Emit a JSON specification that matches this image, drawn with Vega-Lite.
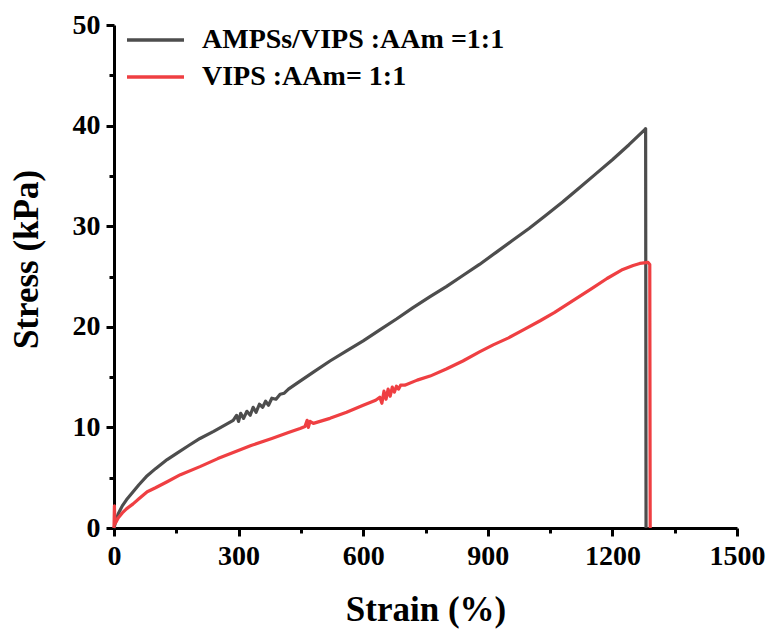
{
  "$schema": "https://vega.github.io/schema/vega-lite/v6.json",
  "width": 623,
  "height": 503,
  "autosize": "none",
  "padding": {"left": 114, "top": 25, "right": 34, "bottom": 101},
  "background": "white",
  "config": {
    "view": {"stroke": null},
    "font": "Liberation Serif"
  },
  "datasets": {
    "black": [
      {"strain":0,"stress":0},{"strain":5,"stress":0.8},{"strain":10,"stress":1.4},{"strain":20,"stress":2.2},
      {"strain":30,"stress":2.8},{"strain":46,"stress":3.6},{"strain":60,"stress":4.3},{"strain":80,"stress":5.2},
      {"strain":100,"stress":5.9},{"strain":128,"stress":6.8},{"strain":150,"stress":7.4},{"strain":180,"stress":8.2},
      {"strain":207,"stress":8.9},{"strain":240,"stress":9.6},{"strain":270,"stress":10.3},{"strain":287,"stress":10.7},
      {"strain":295,"stress":11.2},{"strain":300,"stress":10.6},{"strain":305,"stress":11.4},{"strain":312,"stress":10.9},
      {"strain":320,"stress":11.6},{"strain":328,"stress":11.2},{"strain":335,"stress":12.0},{"strain":342,"stress":11.5},
      {"strain":350,"stress":12.3},{"strain":358,"stress":12.0},{"strain":365,"stress":12.6},{"strain":372,"stress":12.2},
      {"strain":380,"stress":12.9},{"strain":390,"stress":12.8},{"strain":400,"stress":13.3},{"strain":410,"stress":13.4},
      {"strain":420,"stress":13.8},{"strain":441,"stress":14.4},{"strain":480,"stress":15.5},{"strain":520,"stress":16.6},
      {"strain":560,"stress":17.6},{"strain":600,"stress":18.6},{"strain":640,"stress":19.7},{"strain":681,"stress":20.8},
      {"strain":720,"stress":21.9},{"strain":761,"stress":23.0},{"strain":800,"stress":24.0},{"strain":840,"stress":25.1},
      {"strain":880,"stress":26.2},{"strain":920,"stress":27.4},{"strain":960,"stress":28.6},{"strain":1000,"stress":29.8},
      {"strain":1040,"stress":31.1},{"strain":1080,"stress":32.4},{"strain":1120,"stress":33.8},{"strain":1160,"stress":35.2},
      {"strain":1200,"stress":36.6},{"strain":1240,"stress":38.1},{"strain":1278,"stress":39.6},{"strain":1280,"stress":39.7},
      {"strain":1281,"stress":0}
    ],
    "red": [
      {"strain":0,"stress":0},{"strain":1,"stress":2.2},{"strain":2,"stress":0.4},{"strain":5,"stress":0.6},
      {"strain":10,"stress":1.0},{"strain":20,"stress":1.5},{"strain":30,"stress":1.9},{"strain":46,"stress":2.4},
      {"strain":60,"stress":2.9},{"strain":80,"stress":3.6},{"strain":100,"stress":4.0},{"strain":128,"stress":4.6},
      {"strain":160,"stress":5.3},{"strain":207,"stress":6.1},{"strain":250,"stress":6.9},{"strain":287,"stress":7.5},
      {"strain":330,"stress":8.2},{"strain":380,"stress":8.9},{"strain":420,"stress":9.5},{"strain":448,"stress":9.9},
      {"strain":460,"stress":10.1},{"strain":465,"stress":10.7},{"strain":468,"stress":10.0},{"strain":472,"stress":10.6},
      {"strain":480,"stress":10.4},{"strain":520,"stress":10.9},{"strain":560,"stress":11.5},{"strain":600,"stress":12.2},
      {"strain":630,"stress":12.7},{"strain":640,"stress":13.0},{"strain":645,"stress":12.4},{"strain":650,"stress":13.6},
      {"strain":655,"stress":12.8},{"strain":660,"stress":13.8},{"strain":665,"stress":13.1},{"strain":670,"stress":14.0},
      {"strain":675,"stress":13.5},{"strain":680,"stress":14.1},{"strain":685,"stress":13.8},{"strain":690,"stress":14.2},
      {"strain":700,"stress":14.2},{"strain":730,"stress":14.7},{"strain":761,"stress":15.1},{"strain":800,"stress":15.8},
      {"strain":840,"stress":16.6},{"strain":880,"stress":17.5},{"strain":913,"stress":18.2},{"strain":950,"stress":18.9},
      {"strain":990,"stress":19.8},{"strain":1026,"stress":20.6},{"strain":1060,"stress":21.4},{"strain":1105,"stress":22.6},
      {"strain":1150,"stress":23.8},{"strain":1187,"stress":24.8},{"strain":1225,"stress":25.7},{"strain":1250,"stress":26.1},
      {"strain":1266,"stress":26.3},{"strain":1286,"stress":26.4},{"strain":1290,"stress":26.2},{"strain":1291,"stress":0}
    ]
  },
  "layer": [
    {
      "data": {"name": "black"},
      "transform": [{"calculate": "'AMPSs/VIPS :AAm =1:1'", "as": "series"}],
      "mark": {"type": "line", "strokeWidth": 3.2, "strokeJoin": "round"},
      "encoding": {
        "x": {"field": "strain", "type": "quantitative"},
        "y": {"field": "stress", "type": "quantitative"},
        "color": {"field": "series", "type": "nominal"}
      }
    },
    {
      "data": {"name": "red"},
      "transform": [{"calculate": "'VIPS :AAm= 1:1'", "as": "series"}],
      "mark": {"type": "line", "strokeWidth": 3.2, "strokeJoin": "round"},
      "encoding": {
        "x": {"field": "strain", "type": "quantitative"},
        "y": {"field": "stress", "type": "quantitative"},
        "color": {"field": "series", "type": "nominal"}
      }
    }
  ],
  "encoding": {
    "x": {
      "field": "strain", "type": "quantitative",
      "scale": {"domain": [0, 1500], "nice": false, "zero": true},
      "axis": {
        "title": "Strain (%)",
        "values": [0,150,300,450,600,750,900,1050,1200,1350,1500],
        "labelExpr": "datum.value % 300 === 0 ? datum.label : ''",
        "format": "d",
        "grid": false,
        "domainColor": "black", "domainWidth": 3,
        "tickColor": "black", "tickWidth": 3,
        "tickSize": {"condition": {"test": "datum.value % 300 !== 0", "value": 5}, "value": 8},
        "labelFont": "Liberation Serif", "labelFontWeight": "bold", "labelFontSize": 28, "labelColor": "black",
        "labelPadding": 6, "labelFlush": false, "labelOverlap": false,
        "titleFont": "Liberation Serif", "titleFontWeight": "bold", "titleFontSize": 35, "titleColor": "black",
        "titlePadding": 22
      }
    },
    "y": {
      "field": "stress", "type": "quantitative",
      "scale": {"domain": [0, 50], "nice": false},
      "axis": {
        "title": "Stress (kPa)",
        "values": [0,5,10,15,20,25,30,35,40,45,50],
        "labelExpr": "datum.value % 10 === 0 ? datum.label : ''",
        "grid": false,
        "domainColor": "black", "domainWidth": 3,
        "tickColor": "black", "tickWidth": 3,
        "tickSize": {"condition": {"test": "datum.value % 10 !== 0", "value": 5}, "value": 8},
        "labelFont": "Liberation Serif", "labelFontWeight": "bold", "labelFontSize": 28, "labelColor": "black",
        "labelPadding": 6, "labelFlush": false, "labelOverlap": false,
        "titleFont": "Liberation Serif", "titleFontWeight": "bold", "titleFontSize": 35, "titleColor": "black",
        "titlePadding": 28,
        "titleY": 234
      }
    },
    "color": {
      "field": "series", "type": "nominal",
      "scale": {"domain": ["AMPSs/VIPS :AAm =1:1", "VIPS :AAm= 1:1"], "range": ["#4d4d4d", "#ef3f42"]},
      "legend": {
        "title": null,
        "orient": "none",
        "legendX": 11,
        "legendY": 0,
        "symbolType": "stroke",
        "symbolSize": 3249,
        "symbolStrokeWidth": 3.5,
        "clipHeight": 30,
        "labelFont": "Liberation Serif", "labelFontWeight": "bold", "labelFontSize": 28, "labelColor": "black",
        "labelOffset": 16,
        "rowPadding": 7,
        "labelLimit": 500
      }
    }
  }
}
